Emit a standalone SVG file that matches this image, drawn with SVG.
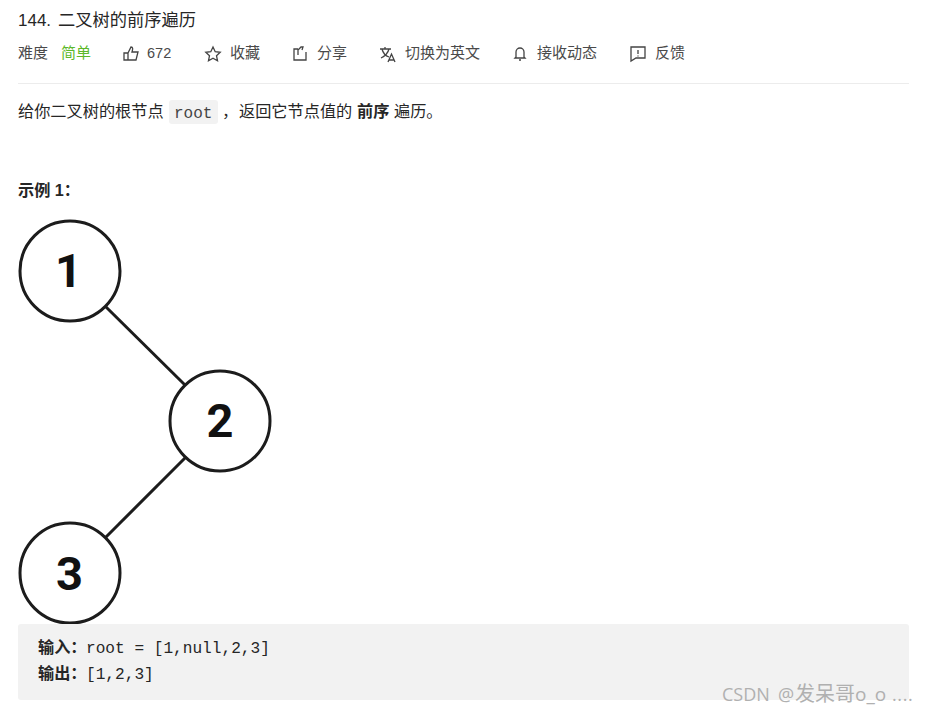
<svg xmlns="http://www.w3.org/2000/svg" width="926" height="714" viewBox="0 0 926 714">
<style>
text{font-family:"Liberation Sans","Noto Sans CJK SC",sans-serif;fill:#262626;font-size:16.200px}
.t{font-size:15px;fill:#4a4a4a}
.m{font-family:"Liberation Mono","Noto Sans CJK SC",monospace;font-size:16.140px}
.b{font-weight:bold}
.n{font-family:Roboto,"Liberation Sans",sans-serif;font-size:47px;font-weight:bold;fill:#111;text-anchor:middle}
.c{fill:#fff;stroke:#1c1c1c;stroke-width:3}
.i{fill:none;stroke:#444;stroke-width:1.3}
.w{font-family:'Open Sans','Noto Sans CJK SC',sans-serif;font-size:18px;fill:#b0b0b0}
</style>
<rect width="926" height="714" fill="#fff"/>
<text x="18" y="26" style="font-size:17px">144.</text>
<text x="58" y="26" style="font-size:17.250px">二叉树的前序遍历</text>
<g id="toolbar">
<text x="18" y="58" class="t">难度</text>
<text x="61" y="58" class="t" style="fill:#5cb82a">简单</text>
<path class="i" d="M124 53h4v7h-4zM128 53l3-6c2 0 2 2 1 5h6l-2 8h-8"/>
<text x="147" y="58" class="t" style="font-size:14.500px">672</text>
<path class="i" d="M213 47l2.200 4.700 5 .6-3.700 3.400 1 5-4.500-2.500-4.500 2.500 1-5-3.700-3.400 5-.6z"/>
<text x="230" y="58" class="t">收藏</text>
<path class="i" d="M298 49h-4v11h12v-8M298 55v-5l3-3h2l-1 3"/>
<text x="317" y="58" class="t">分享</text>
<path class="i" d="M380 49h11M385 47v2M382 49c1 4 4 7 7 8M389 49c-1 4-4 7-8 9M388 62l3.500-8 3.500 8M389 60h5"/>
<text x="405" y="58" class="t">切换为英文</text>
<path class="i" d="M516 57v-5a4 4 0 0 1 8 0v5l1 1h-10zM519 60h2"/>
<text x="537" y="58" class="t">接收动态</text>
<path class="i" d="M631 47h14v11h-9l-5 3zM638 50v4M638 55.500v1"/>
<text x="655" y="58" class="t">反馈</text>
</g>
<line x1="18" y1="83.500" x2="909" y2="83.500" stroke="#ececec"/>
<g id="desc">
<text x="18" y="117">给你二叉树的根节点</text>
<rect x="169" y="100" width="49" height="24" rx="3" fill="#f2f2f2"/>
<text x="174" y="118" class="m" style="font-size:16px;fill:#444">root</text>
<text x="222" y="117">，</text>
<text x="239" y="117">返回它节点值的</text>
<text x="357" y="117" class="b">前序</text>
<text x="394" y="117">遍历。</text>
</g>
<text x="18" y="196" class="b">示例 1：</text>
<g id="connectors" stroke="#1c1c1c" stroke-width="3" fill="none">
<line x1="105" y1="306" x2="185" y2="385"/>
<line x1="186" y1="457" x2="105" y2="538"/>
</g>
<g id="node-1"><circle class="c" cx="70" cy="271" r="50"/><text class="n" x="68.500" y="287">1</text></g>
<g id="node-2"><circle class="c" cx="220" cy="421" r="50"/><text class="n" x="220" y="437">2</text></g>
<g id="node-3"><circle class="c" cx="70" cy="573" r="50"/><text class="n" x="69.500" y="589.500">3</text></g>
<g id="example">
<rect x="18" y="624" width="891" height="76" rx="3" fill="#f2f2f2"/>
<text x="38" y="653" class="b">输入：</text>
<text x="86" y="653" class="m">root = [1,null,2,3]</text>
<text x="38" y="679" class="b">输出：</text>
<text x="86" y="679" class="m">[1,2,3]</text>
</g>
<text y="701" class="w"><tspan x="722">CSDN</tspan> <tspan x="778">@</tspan><tspan x="795" style="font-size:20px">发呆哥</tspan><tspan x="855" style="font-size:19px">o_o</tspan><tspan x="892" style="letter-spacing:.6px">....</tspan></text>
</svg>
